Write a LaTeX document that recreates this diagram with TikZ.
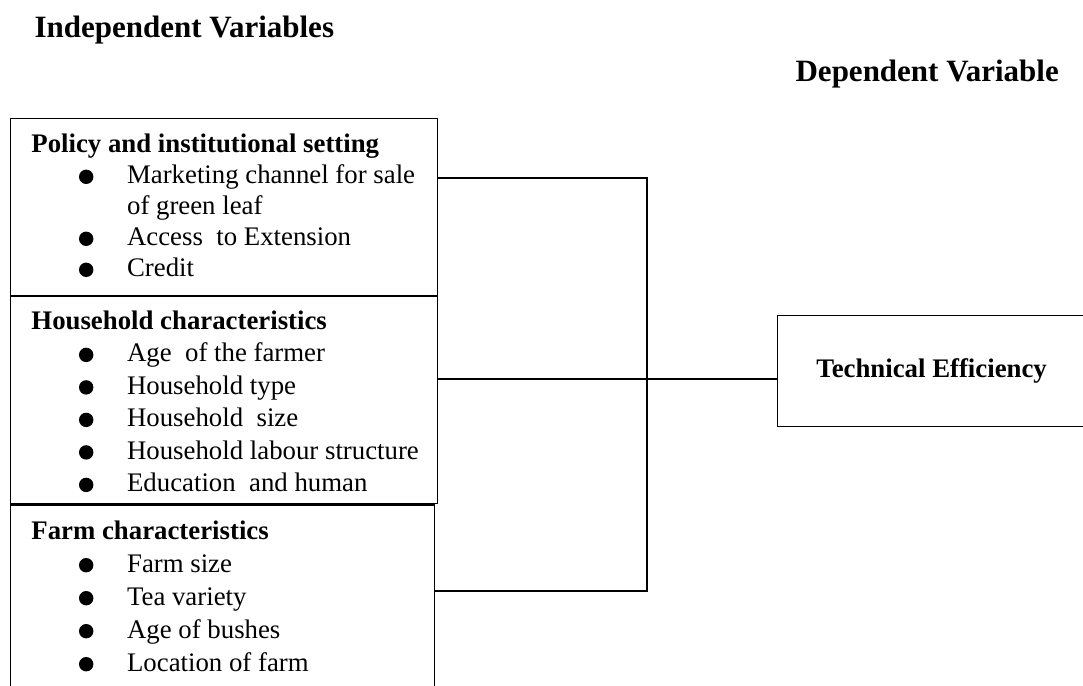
\documentclass[tikz,border=0pt]{standalone}
\usepackage{fontspec}
\setmainfont{Liberation Serif}
\usetikzlibrary{positioning}

\newcommand{\bdot}{\tikz[baseline=-3.4pt,x=1cm,y=1cm]\fill (0,0) circle (3.6pt);}
\newcommand{\itm}[1]{\hspace*{23.8pt}\makebox[24.05pt][l]{\bdot}#1}
\newcommand{\cnt}[1]{\hspace*{47.85pt}#1}

\begin{document}
\begin{tikzpicture}[x=0.5pt,y=-0.5pt,line width=0.6pt]
 \tikzstyle{box}=[draw,rectangle,inner sep=0pt,minimum width=213.5pt,anchor=north west]
 \tikzstyle{list}=[align=left,inner sep=0pt,anchor=north west,font=\fontsize{13.4}{16}\selectfont]
 \tikzstyle{head}=[inner sep=0pt,anchor=base west,font=\fontsize{15.5}{18}\selectfont\bfseries]

\useasboundingbox (0,0) rectangle (1083,686);

\node[head] (IV) at (34,37)  {Independent Variables};
\node[head] (DV) at (795,81) {Dependent Variable};

% the three groups of factors
\node[box, minimum height=88.5pt]                  (P) at (10,118)        {};
\node[box, minimum height=103.5pt]                 (H) at (P.south west)  {};
\node[box, minimum height=99pt, minimum width=212pt] (F) at (H.south west) {};

\node[list, font=\fontsize{13.4}{15.5}\selectfont] (Pl) at ([xshift=10.5pt,yshift=-7.8pt]P.north west)
  {\textbf{Policy and institutional setting}\\
   \itm{Marketing channel for sale}\\
   \cnt{of green leaf}\\
   \itm{Access\ \ to Extension}\\
   \itm{Credit}};
\node[list, font=\fontsize{13.4}{16.25}\selectfont] (Hl) at ([xshift=10.5pt,yshift=-7pt]H.north west)
  {\textbf{Household characteristics}\\
   \itm{Age\ \ of the farmer}\\
   \itm{Household type}\\
   \itm{Household\ \ size}\\
   \itm{Household labour structure}\\
   \itm{Education\ \ and human}};
\node[list, font=\fontsize{13.4}{16.5}\selectfont] (Fl) at ([xshift=10.5pt,yshift=-7.8pt]F.north west)
  {\textbf{Farm characteristics}\\
   \itm{Farm size}\\
   \itm{Tea variety}\\
   \itm{Age of bushes}\\
   \itm{Location of farm}};

% outcome
\node[box, minimum width=154pt, minimum height=55.5pt, font=\fontsize{13.4}{16}\selectfont\bfseries] (T) at (777,315) {Technical Efficiency};

% links
\coordinate (J1) at (647,178);
\coordinate (J2) at (647,379);
\coordinate (J3) at (647,591);
\draw (P.east |- J1) -- (J1) -- (J3) -- (F.east |- J3);
\draw (H.east |- J2) -- (T.west |- J2);
\end{tikzpicture}
\end{document}
